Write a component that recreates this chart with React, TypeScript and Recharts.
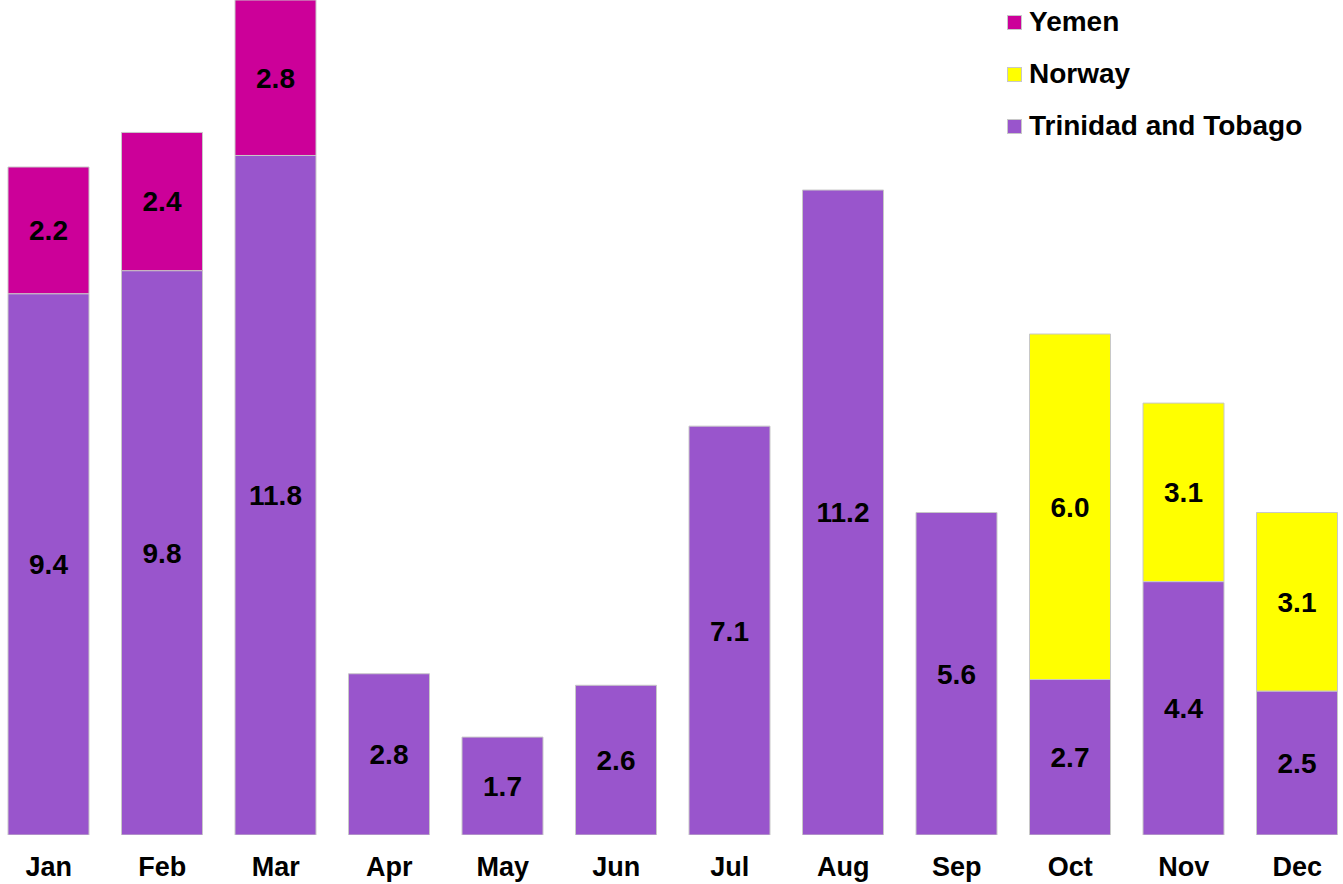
import { BarChart, Bar, XAxis, YAxis, LabelList } from "recharts";

const MONTHS = ["Jan", "Feb", "Mar", "Apr", "May", "Jun", "Jul", "Aug", "Sep", "Oct", "Nov", "Dec"];
const TRINIDAD = [9.4, 9.8, 11.8, 2.8, 1.7, 2.6, 7.1, 11.2, 5.6, 2.7, 4.4, 2.5];
const NORWAY = [null, null, null, null, null, null, null, null, null, 6.0, 3.1, 3.1];
const YEMEN = [2.2, 2.4, 2.8, null, null, null, null, null, null, null, null, null];

const PURPLE = "#9955cc";
const YELLOW = "#ffff00";
const MAGENTA = "#cc0099";
const FONT = '"Liberation Sans", Arial, sans-serif';

const data = MONTHS.map((m, i) => ({
  month: m,
  trinidad: TRINIDAD[i],
  norway: NORWAY[i],
  yemen: YEMEN[i],
}));

const LEGEND_ITEMS = [
  { name: "Yemen", color: MAGENTA },
  { name: "Norway", color: YELLOW },
  { name: "Trinidad and Tobago", color: PURPLE },
];

const fmt = (v: any) => (v == null ? "" : Number(v).toFixed(1));

// legend sits over the chart, so it does not eat plot height
function LegendBox() {
  return (
    <div
      style={{
        position: "absolute",
        left: 1007,
        top: -4,
        fontFamily: FONT,
        fontWeight: "bold",
        fontSize: 28,
        color: "#000",
      }}
    >
      {LEGEND_ITEMS.map((it) => (
        <div key={it.name} style={{ display: "flex", alignItems: "center", height: 52 }}>
          <span
            style={{
              display: "inline-block",
              width: 13,
              height: 13,
              background: it.color,
              border: "1px solid #c8c8c8",
              marginRight: 7,
            }}
          />
          <span>{it.name}</span>
        </div>
      ))}
    </div>
  );
}

const labelStyle = { fill: "#000", fontSize: 28, fontWeight: "bold", fontFamily: FONT };

export default function App() {
  return (
    <div style={{ position: "absolute", left: 0, top: 0, width: 1343, height: 884, overflow: "hidden", background: "#fff" }}>
      <div style={{ position: "absolute", left: -8, top: 0 }}>
        <BarChart width={1362} height={884} data={data} margin={{ top: 0, right: 0, bottom: 0, left: 0 }}>
          <XAxis
            dataKey="month"
            axisLine={false}
            tickLine={false}
            tickSize={0}
            tickMargin={22}
            height={49}
            interval={0}
            tick={{ fill: "#000", fontSize: 27, fontWeight: "bold", fontFamily: FONT }}
          />
          <YAxis hide domain={[0, 14.5]} allowDataOverflow />
          <Bar dataKey="trinidad" stackId="a" fill={PURPLE} stroke="#c8c8c8" strokeWidth={1} barSize={81} isAnimationActive={false}>
            <LabelList dataKey="trinidad" position="center" formatter={fmt} style={labelStyle} />
          </Bar>
          <Bar dataKey="norway" stackId="a" fill={YELLOW} stroke="#c8c8c8" strokeWidth={1} barSize={81} isAnimationActive={false}>
            <LabelList dataKey="norway" position="center" formatter={fmt} style={labelStyle} />
          </Bar>
          <Bar dataKey="yemen" stackId="a" fill={MAGENTA} stroke="#c8c8c8" strokeWidth={1} barSize={81} isAnimationActive={false}>
            <LabelList dataKey="yemen" position="center" formatter={fmt} style={labelStyle} />
          </Bar>
        </BarChart>
      </div>
      <LegendBox />
    </div>
  );
}
